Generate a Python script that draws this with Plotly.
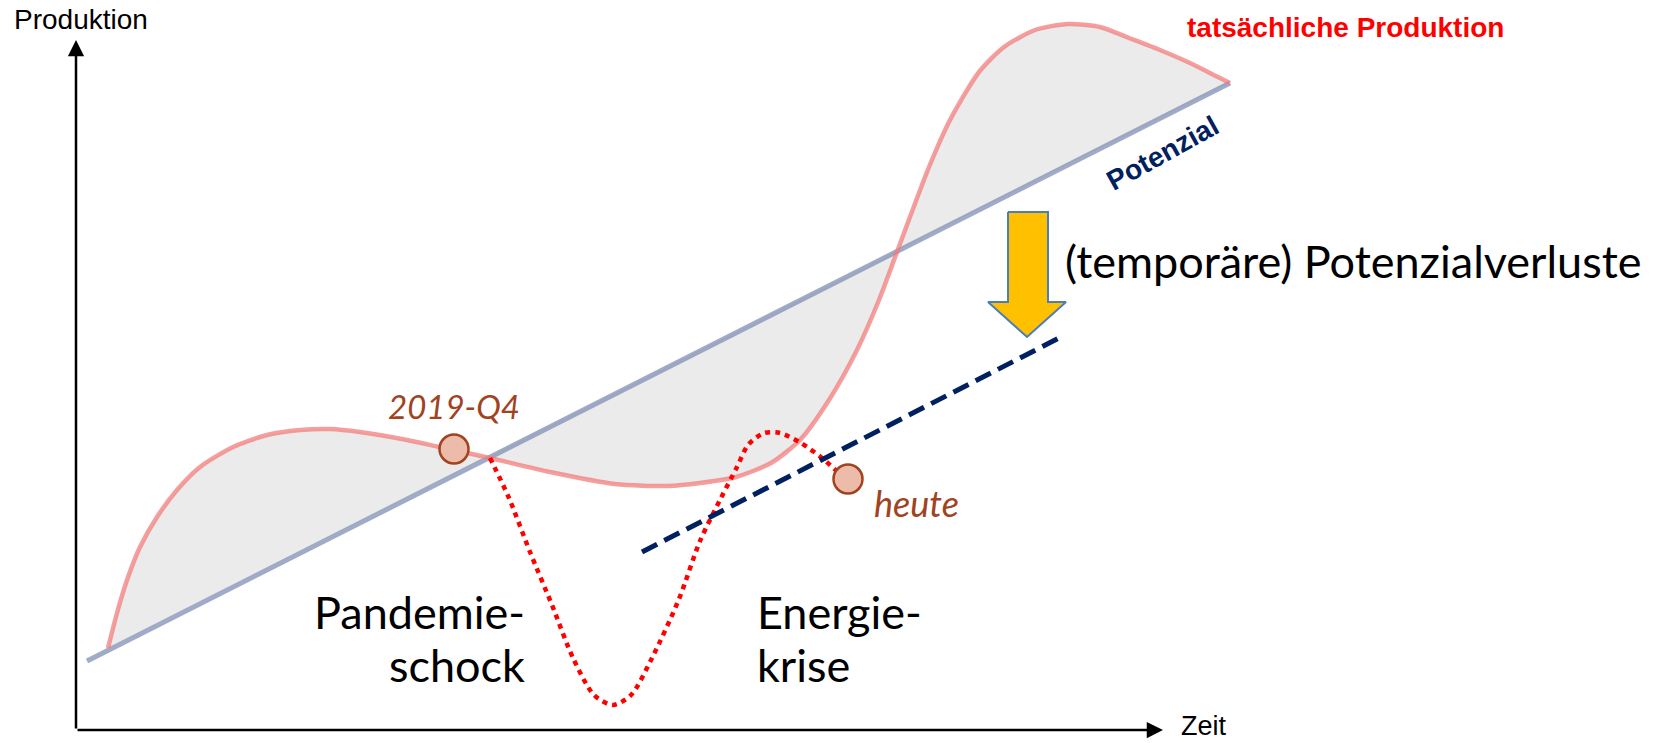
import plotly.graph_objects as go

# schematic coordinates: x = Zeit, y = Produktion (arbitrary units)
axis_origin = (76, 13)
axis_x_end = 1163
axis_y_end = 703

potenzial_x = [87, 1230]
potenzial_y = [82, 660]

produktion_x = [108, 117, 127, 140, 157, 177, 200, 233, 267, 300, 330, 360, 407, 453, 490,
                550, 615, 668, 700, 736, 771, 800, 829, 857, 879, 904, 929, 950, 979, 1004,
                1035, 1068, 1100, 1129, 1160, 1190, 1218, 1230]
produktion_y = [95, 130, 163, 196, 226, 253, 276, 296, 308, 313, 314, 311, 303, 293, 285,
                271, 259, 257, 260, 266, 280, 303, 343, 393, 443, 510, 576, 623, 671, 696,
                713, 719, 716, 705, 693, 680, 666, 660]

krise_x = [490, 509, 530, 552, 573, 594, 613, 631, 652, 679, 700, 721, 737, 748, 764, 780,
           801, 822, 838, 848]
krise_y = [285, 245, 191, 138, 85, 48, 38, 48, 85, 144, 202, 245, 276, 298, 310, 310,
           300, 285, 271, 264]

neues_potenzial_x = [642, 1061]
neues_potenzial_y = [191, 406]

punkt_x = [454, 848]
punkt_y = [294, 264]
punkt_labels = ["2019-Q4", "heute"]

pfeil_x = [1008, 1048, 1048, 1066, 1027, 988, 1008, 1008]
pfeil_y = [531, 531, 441, 441, 406, 441, 441, 531]

BROWN = "#A0431F"
CAL = "Lato, Carlito, 'Open Sans', sans-serif"
ARIAL = "Arial, 'Liberation Sans', sans-serif"

fig = go.Figure()

# grey area between actual production and potential
fig.add_trace(go.Scatter(
    x=produktion_x, y=produktion_y, mode="lines", fill="toself",
    fillcolor="#EBEBEB", line=dict(width=0, shape="spline", smoothing=0.7),
    hoverinfo="skip",
))
fig.add_trace(go.Scatter(
    x=potenzial_x, y=potenzial_y, mode="lines",
    line=dict(color="rgba(128,144,180,0.75)", width=5), hoverinfo="skip",
))
fig.add_trace(go.Scatter(
    x=produktion_x, y=produktion_y, mode="lines",
    line=dict(color="rgba(242,120,120,0.72)", width=4.5, shape="spline", smoothing=0.7),
    hoverinfo="skip",
))
fig.add_trace(go.Scatter(
    x=krise_x, y=krise_y, mode="lines",
    line=dict(color="#FF0000", width=4.5, dash="5px,5px", shape="spline", smoothing=0.8),
    hoverinfo="skip",
))
fig.add_trace(go.Scatter(
    x=neues_potenzial_x, y=neues_potenzial_y, mode="lines",
    line=dict(color="#002060", width=5, dash="17px,8px"), hoverinfo="skip",
))
fig.add_trace(go.Scatter(
    x=punkt_x, y=punkt_y, mode="markers",
    marker=dict(size=29, color="#ECBBAA", line=dict(color=BROWN, width=2.5)),
    hoverinfo="skip",
))
fig.add_trace(go.Scatter(
    x=pfeil_x, y=pfeil_y, mode="lines", fill="toself", fillcolor="#FFC000",
    line=dict(color="#4A7EBB", width=2), hoverinfo="skip",
))

# axes with arrow heads
for tip, tail in [((axis_origin[0], axis_y_end), axis_origin),
                  ((axis_x_end, axis_origin[1]), axis_origin)]:
    fig.add_annotation(x=tip[0], y=tip[1], ax=tail[0], ay=tail[1], xref="x", yref="y",
                       axref="x", ayref="y", text="", showarrow=True, arrowhead=2,
                       arrowsize=1.3, arrowwidth=2.5, arrowcolor="black")

fig.add_annotation(x=12, y=724, text="Produktion", xanchor="left", showarrow=False,
                   font=dict(family=ARIAL, size=28, color="black"))
fig.add_annotation(x=1179, y=17, text="Zeit", xanchor="left", showarrow=False,
                   font=dict(family=ARIAL, size=27, color="black"))
fig.add_annotation(x=1185, y=716, text="<b>tatsächliche Produktion</b>", xanchor="left",
                   showarrow=False, font=dict(family=ARIAL, size=28, color="#FF0000"))
fig.add_annotation(x=1162, y=590, text="<b>Potenzial</b>", textangle=-29, showarrow=False,
                   font=dict(family=ARIAL, size=28, color="#002060"))
fig.add_annotation(x=punkt_x[0], y=337, text="<i>" + punkt_labels[0] + "</i>",
                   showarrow=False, font=dict(family=CAL, size=33, color=BROWN))
fig.add_annotation(x=872, y=240, text="<i>" + punkt_labels[1] + "</i>", xanchor="left",
                   showarrow=False, font=dict(family=CAL, size=36, color=BROWN))
for txt, yy in [("Pandemie-", 131), ("schock", 78)]:
    fig.add_annotation(x=527, y=yy, text=txt, xanchor="right", showarrow=False,
                       font=dict(family=CAL, size=45, color="black"))
for txt, yy in [("Energie-", 131), ("krise", 78)]:
    fig.add_annotation(x=755, y=yy, text=txt, xanchor="left", showarrow=False,
                       font=dict(family=CAL, size=45, color="black"))
fig.add_annotation(x=1063, y=482, text="(temporäre) Potenzialverluste", xanchor="left",
                   showarrow=False, font=dict(family=CAL, size=45, color="black"))

fig.update_layout(
    width=1663, height=743, margin=dict(l=0, r=0, t=0, b=0),
    paper_bgcolor="white", plot_bgcolor="white", showlegend=False,
    xaxis=dict(range=[0, 1663], visible=False, fixedrange=True),
    yaxis=dict(range=[0, 743], visible=False, fixedrange=True),
)

fig.write_html("out.html", config={"displayModeBar": False},
               post_script="document.body.style.margin='0';")
